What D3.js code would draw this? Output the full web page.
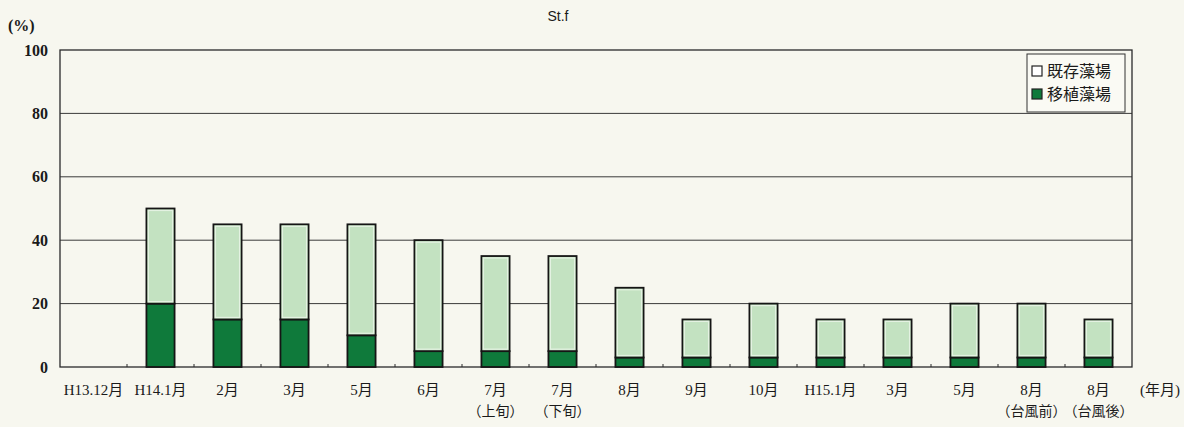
<html>
  <head>
    <meta charset="utf-8" />
    <title>St.f</title>
    <script src="https://d3js.org/d3.v7.min.js"></script>
    <style>
      body {
        margin: 0;
        background: #f7f7ef;
      }
      text {
        fill: #1a1a1a;
      }
    </style>
  </head>
  <body>
    <svg id="chart"></svg>
    <script>
      // data
      var months = ["H13.12月", "H14.1月", "2月", "3月", "5月", "6月", "7月", "7月", "8月", "9月", "10月", "H15.1月", "3月", "5月", "8月", "8月"];
      var subLabels = ["", "", "", "", "", "", "（上旬）", "（下旬）", "", "", "", "", "", "", "（台風前）", "（台風後）"];
      var transplanted = [0, 20, 15, 15, 10, 5, 5, 5, 3, 3, 3, 3, 3, 3, 3, 3];   // 移植藻場
      var existing = [0, 30, 30, 30, 35, 35, 30, 30, 22, 12, 17, 12, 12, 17, 17, 12]; // 既存藻場
      var yTicks = [0, 20, 40, 60, 80, 100];
      var legendLabels = ["既存藻場", "移植藻場"];

      var width = 1184;
      var height = 427;
      var margin = { top: 50, right: 52, bottom: 60, left: 60 };
      var chartWidth = width - margin.left - margin.right;
      var chartHeight = height - margin.top - margin.bottom;

      var serif = "'Liberation Serif', 'Noto Sans CJK JP', serif";
      var darkGreen = "#0f7a3b";
      var lightGreen = "#c3e2c1";

      var svg = d3.select("#chart")
        .attr("width", width)
        .attr("height", height);

      var data = months.map(function(m, i) {
        return { i: i, transplanted: transplanted[i], existing: existing[i] };
      });

      var x = d3.scaleBand()
        .domain(d3.range(months.length))
        .range([margin.left, margin.left + chartWidth])
        .paddingInner(0.58)
        .paddingOuter(0.29);

      var y = d3.scaleLinear()
        .domain([0, 100])
        .range([margin.top + chartHeight, margin.top]);

      // gridlines
      svg.append("g")
        .selectAll("line")
        .data(yTicks.filter(function(d) { return d > 0 && d < 100; }))
        .enter().append("line")
        .attr("x1", margin.left)
        .attr("x2", margin.left + chartWidth)
        .attr("y1", function(d) { return y(d); })
        .attr("y2", function(d) { return y(d); })
        .attr("stroke", "#3a3a3a")
        .attr("stroke-width", 1);

      // frame
      svg.append("rect")
        .attr("x", margin.left)
        .attr("y", margin.top)
        .attr("width", chartWidth)
        .attr("height", chartHeight)
        .attr("fill", "none")
        .attr("stroke", "#2a2a2a")
        .attr("stroke-width", 1.3);

      // small ticks at band boundaries
      var step = x.step();
      svg.append("g")
        .selectAll("line")
        .data(d3.range(1, months.length))
        .enter().append("line")
        .attr("x1", function(d) { return margin.left + d * step; })
        .attr("x2", function(d) { return margin.left + d * step; })
        .attr("y1", y(0))
        .attr("y2", y(0) - 3)
        .attr("stroke", "#2a2a2a")
        .attr("stroke-width", 1);

      // stacked bars
      var stack = d3.stack().keys(["transplanted", "existing"]);
      var series = stack(data);
      var colors = { transplanted: darkGreen, existing: lightGreen };

      var groups = svg.append("g")
        .selectAll("g")
        .data(series)
        .enter().append("g")
        .attr("fill", function(s) { return colors[s.key]; });

      groups.selectAll("rect")
        .data(function(s) { return s.filter(function(d) { return d[1] > d[0]; }); })
        .enter().append("rect")
        .attr("x", function(d) { return x(d.data.i); })
        .attr("width", x.bandwidth())
        .attr("y", function(d) { return y(d[1]); })
        .attr("height", function(d) { return y(d[0]) - y(d[1]); })
        .attr("stroke", "#151515")
        .attr("stroke-width", 1.8);

      // pale inner edge of the light segments
      svg.append("g")
        .selectAll("rect")
        .data(series[1].filter(function(d) { return d[1] > d[0]; }))
        .enter().append("rect")
        .attr("x", function(d) { return x(d.data.i) + 2; })
        .attr("width", x.bandwidth() - 4)
        .attr("y", function(d) { return y(d[1]) + 2; })
        .attr("height", function(d) { return y(d[0]) - y(d[1]) - 4; })
        .attr("fill", "none")
        .attr("stroke", "#e4f2e2")
        .attr("stroke-width", 1.2);

      // y axis labels
      var yAxis = d3.axisLeft(y).tickValues(yTicks).tickSize(0).tickPadding(12);
      var yG = svg.append("g")
        .attr("transform", "translate(" + margin.left + ",0)")
        .call(yAxis);
      yG.select(".domain").remove();
      yG.selectAll("text")
        .style("font-family", serif)
        .style("font-size", "16px")
        .style("font-weight", "bold")
        .attr("fill", "#1a1a1a");

      // x labels
      var xl = svg.append("g")
        .selectAll("text")
        .data(d3.range(months.length))
        .enter().append("text")
        .attr("x", function(i) { return x(i) + x.bandwidth() / 2; })
        .attr("y", 395)
        .attr("text-anchor", "middle")
        .style("font-family", serif)
        .style("font-size", "15px");
      xl.append("tspan").text(function(i) { return months[i]; });
      xl.append("tspan")
        .attr("x", function(i) { return x(i) + x.bandwidth() / 2; })
        .attr("dy", 21)
        .style("font-size", "14px")
        .text(function(i) { return subLabels[i]; });

      svg.append("text")
        .attr("x", 1140)
        .attr("y", 395)
        .style("font-family", serif)
        .style("font-size", "15px")
        .text("(年月)");

      svg.append("text")
        .attr("x", 8)
        .attr("y", 31)
        .style("font-family", serif)
        .style("font-size", "16px")
        .style("font-weight", "bold")
        .text("(%)");

      svg.append("text")
        .attr("x", 558)
        .attr("y", 21)
        .attr("text-anchor", "middle")
        .style("font-family", "'Liberation Sans', sans-serif")
        .style("font-size", "14px")
        .text("St.f");

      // legend
      var legend = svg.append("g").attr("transform", "translate(1027,54)");
      legend.append("rect")
        .attr("width", 98)
        .attr("height", 58)
        .attr("fill", "#fafaf4")
        .attr("stroke", "#333")
        .attr("stroke-width", 1);
      var legendFill = ["#ffffff", darkGreen];
      var items = legend.selectAll("g.item")
        .data(legendLabels)
        .enter().append("g")
        .attr("class", "item")
        .attr("transform", function(d, i) { return "translate(5," + (12 + i * 23) + ")"; });
      items.append("rect")
        .attr("width", 10)
        .attr("height", 10)
        .attr("y", 0)
        .attr("fill", function(d, i) { return legendFill[i]; })
        .attr("stroke", "#222")
        .attr("stroke-width", 1.2);
      items.append("text")
        .attr("x", 15)
        .attr("y", 11)
        .style("font-family", serif)
        .style("font-size", "16px")
        .text(function(d) { return d; });
    </script>
  </body>
</html>
